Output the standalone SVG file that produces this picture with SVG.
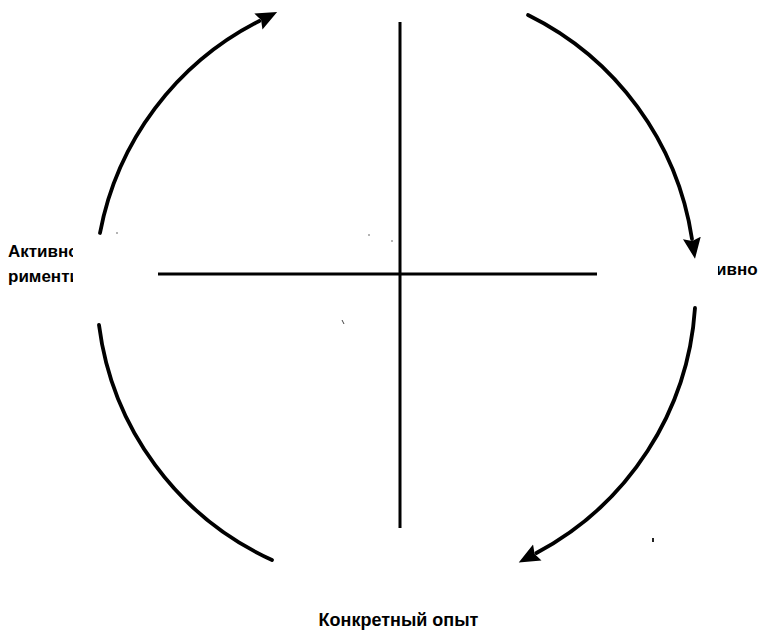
<svg xmlns="http://www.w3.org/2000/svg" width="763" height="635" viewBox="0 0 763 635">
<style>
.arc{fill:none;stroke:#000;stroke-width:3.8;stroke-linecap:round}
.axis{stroke:#000;stroke-width:3;stroke-linecap:butt}
.lbl{font-family:"Liberation Sans",Arial,sans-serif;font-weight:bold;fill:#000}
.speck{fill:#555}
</style>
<defs>
<marker id="ah" markerUnits="userSpaceOnUse" markerWidth="22" markerHeight="20" viewBox="0 0 22 20" refX="1" refY="10" orient="auto">
<path d="M0,1 L21,10 L0,19 L3,10 Z" fill="#000"/>
</marker>
<clipPath id="clipL"><rect x="0" y="230" width="73" height="70"/></clipPath>
<clipPath id="clipR"><rect x="718" y="250" width="45" height="40"/></clipPath>
</defs>
<rect width="763" height="635" fill="#fff"/>
<g id="connectors">
<path class="arc" d="M100,233 A300,300 0 0 1 259.3,21" marker-end="url(#ah)"/>
<path class="arc" d="M528,15 A300,300 0 0 1 692,239" marker-end="url(#ah)"/>
<path class="arc" d="M695,308 A300,300 0 0 1 536.4,553" marker-end="url(#ah)"/>
<path class="arc" d="M99,325 A300,300 0 0 0 272,560"/>
</g>
<g id="axes">
<line class="axis" x1="400" y1="22" x2="400" y2="528"/>
<line class="axis" x1="158" y1="274" x2="597" y2="274"/>
</g>
<g id="node-left" clip-path="url(#clipL)">
<text class="lbl" x="8" y="257" font-size="17">Активно</text>
<text class="lbl" x="8" y="282" font-size="17">рименти</text>
</g>
<g id="node-right" clip-path="url(#clipR)">
<text class="lbl" x="716" y="275" font-size="17">ивно</text>
</g>
<g id="node-bottom">
<text class="lbl" x="398.5" y="626" font-size="18" text-anchor="middle">Конкретный опыт</text>
</g>
<g id="specks">
<circle class="speck" cx="117" cy="233" r="0.8"/>
<circle class="speck" cx="369" cy="235" r="0.8"/>
<circle class="speck" cx="392" cy="241" r="0.8"/>
<line x1="342" y1="320" x2="344" y2="324" stroke="#444" stroke-width="1"/>
<rect x="652" y="538" width="2" height="4" fill="#222"/>
</g>
</svg>
